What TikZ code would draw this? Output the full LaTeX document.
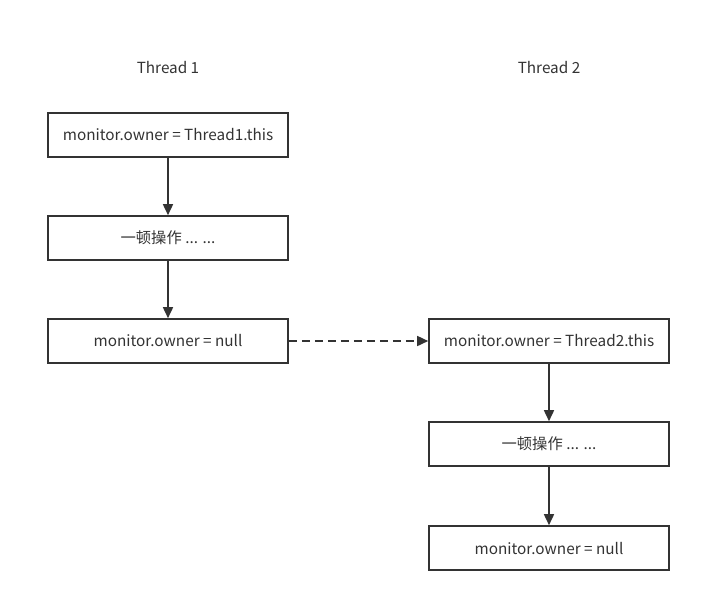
\documentclass[tikz,border=0pt]{standalone}
\usepackage{fontspec}
\setmainfont{Noto Sans CJK SC}
\usetikzlibrary{arrows.meta}
\definecolor{ink}{HTML}{333333}
\begin{document}
\begin{tikzpicture}[x=1pt,y=-1pt,
  box/.style={draw=ink, line width=1.6pt, minimum width=240pt, minimum height=44pt, inner sep=0pt, text=ink, font=\fontsize{15.3}{18}\selectfont},
  lbl/.style={text=ink, font=\fontsize{15.3}{18}\selectfont},
  conn/.style={draw=ink, line width=1.6pt, -{Triangle[length=11pt,width=10pt]}}]
\useasboundingbox (0,0) rectangle (701,603);
\node[lbl] (t1) at (168,68) {Thread 1};
\node[lbl] (t2) at (549,68) {Thread 2};
\node[box] (a1) at (168,135) {monitor.owner = Thread1.this};
\node[box] (a2) at (168,238) {一顿操作 ... ...};
\node[box] (a3) at (168,341) {monitor.owner = null};
\node[box] (b1) at (549,341) {monitor.owner = Thread2.this};
\node[box] (b2) at (549,444) {一顿操作 ... ...};
\node[box] (b3) at (549,548) {monitor.owner = null};
\draw[conn] (a1) -- (a2);
\draw[conn] (a2) -- (a3);
\draw[conn, dash pattern=on 8pt off 5pt] (a3) -- (b1);
\draw[conn] (b1) -- (b2);
\draw[conn] (b2) -- (b3);
\end{tikzpicture}
\end{document}
